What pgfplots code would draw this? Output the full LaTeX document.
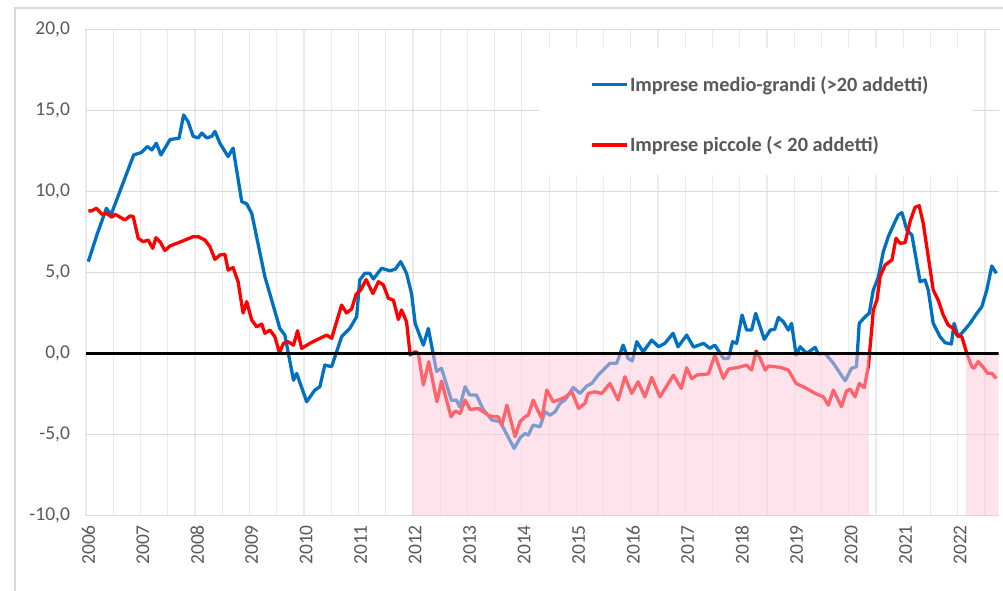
\documentclass[border=0pt]{standalone}
\usepackage{pgfplots}
\pgfplotsset{compat=1.18}
\usepackage{fontspec}
\setmainfont{Carlito}
\definecolor{xblue}{HTML}{0070C0}
\definecolor{xred}{HTML}{FF0000}
\definecolor{txt}{HTML}{595959}
\definecolor{hgrid}{HTML}{D9D9D9}
\definecolor{vgrid}{HTML}{EBEBEB}
\definecolor{shade}{RGB}{255,200,217}
\definecolor{frame}{HTML}{D9D9D9}
\begin{document}
\begin{tikzpicture}
\useasboundingbox (-86bp,-75.3bp) rectangle (917bp,515.7bp);
\draw[frame, line width=1.2bp] (-71bp,-80bp) -- (-71bp,507.7bp) -- (920bp,507.7bp);
\begin{axis}[
  at={(0,0)}, anchor=south west,
  scale only axis, width=912.6bp, height=486.4bp,
  xmin=-0.5, xmax=200.5, ymin=-10, ymax=20,
  axis line style={draw=none},
  major tick length=0pt, minor tick length=0pt,
  xtick={0,12,...,192},
  xticklabels={2006,2007,2008,2009,2010,2011,2012,2013,2014,2015,2016,2017,2018,2019,2020,2021,2022},
  minor xtick={-0.5,5.5,...,197.5},
  xminorgrids=true, minor x grid style={vgrid, line width=1.2bp},
  ytick={-10,-5,0,5,10,15,20},
  yticklabels={{-10,0},{-5,0},{0,0},{5,0},{10,0},{15,0},{20,0}},
  ymajorgrids=true, major y grid style={hgrid, line width=1.2bp},
  tick label style={font=\fontsize{19.5bp}{22bp}\selectfont, text=txt},
  xticklabel style={rotate=90, anchor=east},
  xticklabel shift=6bp,
  yticklabel shift=12.5bp,
  legend style={at={(rel axis cs:0.5523,0.8245)}, anchor=west, draw=none, fill=none,
    inner sep=0pt, row sep=40bp, text=txt,
    font=\bfseries\fontsize{20.3bp}{23bp}\selectfont,
    nodes={inner xsep=1.5bp, inner ysep=2bp}},
  legend cell align=left,
  legend image code/.code={\draw[#1] (0bp,0bp) -- (35bp,0bp);},
]
\addplot[draw=none, fill=white, forget plot] coordinates {(99.3,11)(99.3,18.86)(194.6,18.86)(194.6,11)} -- cycle;

\addplot[xblue, line width=3.3bp, line join=round] coordinates {
(0,5.67)(2,7.4)(4,8.96)(5,8.55)(10,12.25)(11.7,12.4)(13,12.77)(14,12.56)(15,12.97)(16,12.25)(18,13.2)(20,13.28)(21,14.72)(22,14.3)(23.1,13.4)(24.2,13.3)(25,13.6)(26.1,13.3)(27.2,13.4)(27.9,13.7)(29,12.97)(30.8,12.15)(31.9,12.67)(33.8,9.37)(34.9,9.23)(36,8.65)(38.9,4.74)(42.2,1.55)(43.3,1.14)(45.2,-1.64)(45.9,-1.22)(48.1,-2.97)(49.9,-2.25)(51,-2.05)(52.1,-0.71)(53.6,-0.81)(55.8,1.04)(57.6,1.55)(59.1,2.27)(59.8,4.54)(60.9,4.95)(62,4.95)(62.8,4.6)(64.6,5.26)(66.4,5.11)(67.6,5.2)(68.8,5.67)(70.1,4.95)(71.2,3.7)(72,1.86)(73.8,0.52)(74.9,1.55)(76.7,-1.1)(77.8,-0.91)(80,-2.9)(81.1,-2.87)(81.8,-3.3)(83,-2.05)(84,-2.56)(85.5,-2.56)(87,-3.45)(88.9,-4.1)(90.7,-4.2)(93.8,-5.85)(95.1,-5.2)(96.2,-4.93)(96.9,-5.03)(98,-4.41)(99.5,-4.52)(100.6,-3.59)(101.7,-3.8)(102.8,-3.6)(103.9,-3.07)(105,-2.87)(106.8,-2.09)(108.3,-2.46)(109.8,-2.0)(110.9,-1.84)(112.3,-1.33)(114.9,-0.6)(116.4,-0.6)(117.8,0.52)(118.9,-0.3)(119.8,-0.46)(120.8,0.73)(122.2,0.11)(124.1,0.83)(125.6,0.42)(127,0.63)(128.8,1.25)(129.9,0.42)(131.8,1.14)(133.3,0.4)(135.5,0.63)(136.9,0.32)(138,0.52)(139.9,-0.3)(141,-0.3)(141.9,0.73)(142.8,0.63)(144,2.38)(145,1.45)(146.1,1.45)(147,2.48)(148.9,0.88)(150.2,1.45)(151.2,1.5)(152,2.23)(153.1,1.96)(154.2,1.45)(154.9,1.86)(155.9,-0.09)(156.8,0.42)(158.2,0.01)(160.1,0.38)(160.8,-0.03)(162.3,0.01)(164.1,-0.6)(166.7,-1.68)(168.1,-0.91)(169.2,-0.81)(169.8,1.86)(171.1,2.27)(172,2.48)(172.9,3.92)(174,4.7)(175.1,6.28)(176.2,7.21)(177.7,8.14)(178.4,8.55)(179.2,8.69)(180.3,7.62)(181.4,7.31)(182.5,5.57)(183.2,4.43)(184.3,4.54)(185,3.92)(186.1,1.86)(187.6,1.04)(188.7,0.67)(190.1,0.59)(190.7,1.86)(191.6,1.04)(192.7,1.35)(194.2,1.86)(195.7,2.48)(196.8,2.89)(197.9,3.92)(199,5.4)(200,4.95)
};
\addlegendentry{Imprese medio-grandi (>20 addetti)}

\addplot[xred, line width=3.3bp, line join=round] coordinates {
(0,8.8)(0.7,8.8)(1.8,8.96)(3,8.59)(4,8.65)(5.2,8.41)(5.9,8.59)(8.1,8.24)(9.2,8.49)(9.9,8.45)(11,7.11)(12.1,6.9)(13.2,7.0)(14.2,6.49)(14.9,7.15)(15.8,6.9)(16.9,6.35)(18,6.64)(19.5,6.8)(21.3,7.0)(23.1,7.21)(24.2,7.21)(25.7,7.0)(26.8,6.59)(27.9,5.81)(29,6.08)(30.1,6.12)(30.8,5.15)(31.9,5.3)(33,4.43)(34.1,2.5)(34.9,3.2)(36,2.07)(37.1,1.65)(38.2,1.82)(38.9,1.25)(40,1.45)(41.1,1.04)(42.1,0.05)(43,0.63)(44,0.73)(45.2,0.52)(46.1,1.41)(47,0.32)(48.8,0.63)(49.9,0.79)(52.5,1.14)(53.6,0.94)(55.8,2.99)(56.9,2.5)(58,2.75)(59,3.65)(60,3.92)(61.2,4.56)(62.7,3.7)(63.9,4.43)(65,4.23)(66.1,3.41)(67.2,3.3)(68.3,2.1)(69,2.69)(70.1,1.96)(70.9,-0.09)(72,0.11)(72.7,0.01)(73.8,-1.94)(75,-0.5)(76.8,-2.97)(77.8,-1.7)(79.9,-3.9)(80.8,-3.55)(81.9,-3.69)(83,-2.87)(84.1,-3.45)(85.9,-3.38)(88.1,-3.8)(89.2,-3.9)(90.3,-3.9)(91.1,-4.41)(92.2,-3.18)(94,-5.13)(95.1,-4.2)(96.2,-3.9)(96.9,-3.8)(98,-2.87)(99,-3.49)(99.9,-4.0)(101,-2.25)(102.4,-2.97)(103.5,-2.87)(105,-2.7)(106.5,-2.36)(108,-3.38)(109.4,-3.07)(110.1,-2.46)(111.6,-2.36)(113.1,-2.46)(114.9,-1.84)(116.7,-2.87)(118.2,-1.43)(119.7,-2.46)(121.1,-1.74)(122.6,-2.67)(124.1,-1.47)(125.9,-2.67)(127.4,-2.0)(128.9,-1.33)(130.6,-2.15)(131.8,-0.88)(132.9,-1.55)(134,-1.33)(136.6,-1.25)(138,-0.09)(139.9,-1.53)(141,-0.96)(143.2,-0.85)(145,-0.71)(146.1,-1.02)(147.1,0.15)(148,-0.3)(149.1,-1.02)(149.8,-0.77)(152.4,-0.85)(154.2,-1.02)(155.9,-1.84)(158.2,-2.15)(160.1,-2.46)(161.9,-2.67)(163,-3.18)(164.1,-2.25)(165.9,-3.28)(167,-2.3)(167.8,-2.2)(168.9,-2.67)(169.8,-1.84)(170.9,-2.1)(171.8,-0.81)(172.6,1.65)(172.9,2.69)(173.7,3.3)(174.4,4.74)(175.5,5.46)(177,5.77)(177.9,7.11)(178.8,6.8)(179.9,6.84)(181,8.14)(182.1,9.02)(183,9.12)(183.9,8.04)(185,5.98)(186.1,3.92)(187.2,3.3)(188.3,2.38)(189.4,1.76)(190.5,1.55)(191.3,1.14)(192.4,1.04)(193.5,0.01)(194.6,-0.81)(195.1,-0.9)(196,-0.5)(197,-0.81)(198.1,-1.22)(199,-1.22)(200,-1.53)
};
\addlegendentry{Imprese piccole (< 20 addetti)}

\addplot[draw=none, fill=shade, fill opacity=0.5, forget plot] coordinates {(71.3,-10)(71.3,0)(172,0)(172,-10)} -- cycle;
\addplot[draw=none, fill=shade, fill opacity=0.5, forget plot] coordinates {(193.4,-10)(193.4,0)(200.5,0)(200.5,-10)} -- cycle;
\addplot[black, line width=2.4bp, forget plot] coordinates {(-0.5,0)(200.5,0)};
\end{axis}
\end{tikzpicture}
\end{document}
